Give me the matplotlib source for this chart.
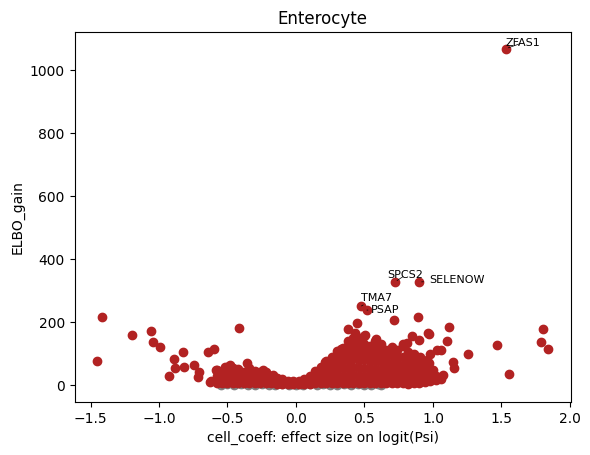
"""volcano-style scatter of ELBO gain vs cell coefficient (Enterocyte)"""
import matplotlib
matplotlib.use('Agg')
import numpy as np
import matplotlib.pyplot as plt

# non-significant genes (grey), sitting along zero
ns_x = [-0.55, -0.50, -0.45, -0.40, -0.35, -0.30, -0.25, -0.20, -0.15, -0.10,
        -0.05, 0.00, 0.05, 0.10, 0.15, 0.20, 0.25, 0.30, 0.35, 0.40,
        0.45, 0.50, 0.55, 0.60, 0.62]
ns_y = [1, 2, 1, 2, 1, 1, 2, 1, 1, 2,
        1, 1, 1, 2, 1, 2, 1, 1, 2, 1,
        2, 1, 1, 2, 1]

# significant genes, scattered outliers
out_x = [-1.415, -1.452, -1.196, -1.060, -1.045, -0.994, -0.890, -0.824, -0.926, -0.885,
         -0.817, -0.744, -0.709, -0.715, -0.642, -0.598, -0.415, -0.629, -0.585, -0.520,
         -0.478, -0.361, -0.240, -0.167,
         0.716, 0.891, 0.446, 0.380, 1.118, 1.804, 1.787, 1.840, 1.468, 1.556,
         1.256, 1.103, 1.062, 0.972, 1.147, 1.154, 1.074, 0.996, 0.845, 0.899,
         0.502, 0.429, 0.417, 0.583, 0.624, 0.782, 0.811, 0.332, 0.526, 0.716,
         0.904, 0.977, 0.953, 1.000, 0.818, 0.968, 0.271, 0.210, 1.026, 0.964]
out_y = [215, 76, 159, 171, 136, 120, 83, 104, 28, 53,
         56, 63, 42, 26, 104, 114, 180, 10, 48, 58,
         63, 69, 48, 32,
         206, 216, 198, 178, 184, 177, 138, 116, 127, 35,
         98, 140, 111, 162, 72, 53, 32, 26, 156, 143,
         159, 166, 138, 145, 130, 130, 134, 113, 111, 111,
         90, 98, 79, 48, 5, 69, 85, 74, 111, 164]

# significant genes, dense body of the cloud
blob_x = [-0.62,
          -0.58, -0.58, -0.58,
          -0.54, -0.54, -0.54,
          -0.50, -0.50, -0.50, -0.50,
          -0.46, -0.46, -0.46, -0.46,
          -0.42, -0.42, -0.42, -0.42,
          -0.38, -0.38, -0.38,
          -0.34, -0.34, -0.34, -0.34,
          -0.30, -0.30, -0.30, -0.30,
          -0.26, -0.26, -0.26, -0.26,
          -0.22, -0.22, -0.22, -0.22,
          -0.18, -0.18, -0.18,
          -0.14, -0.14, -0.14,
          -0.10, -0.10, -0.10,
          -0.06, -0.06, -0.06,
          -0.02, -0.02, -0.02,
          0.02, 0.02, 0.02,
          0.06, 0.06, 0.06,
          0.10, 0.10, 0.10,
          0.14, 0.14, 0.14, 0.14,
          0.18, 0.18, 0.18, 0.18,
          0.22, 0.22, 0.22, 0.22, 0.22,
          0.26, 0.26, 0.26, 0.26, 0.26,
          0.30, 0.30, 0.30, 0.30, 0.30, 0.30,
          0.34, 0.34, 0.34, 0.34, 0.34, 0.34,
          0.38, 0.38, 0.38, 0.38, 0.38, 0.38, 0.38,
          0.42, 0.42, 0.42, 0.42, 0.42, 0.42, 0.42,
          0.46, 0.46, 0.46, 0.46, 0.46, 0.46, 0.46,
          0.50, 0.50, 0.50, 0.50, 0.50, 0.50, 0.50,
          0.54, 0.54, 0.54, 0.54, 0.54, 0.54,
          0.58, 0.58, 0.58, 0.58, 0.58, 0.58, 0.58,
          0.62, 0.62, 0.62, 0.62, 0.62, 0.62,
          0.66, 0.66, 0.66, 0.66, 0.66, 0.66,
          0.70, 0.70, 0.70, 0.70, 0.70, 0.70,
          0.74, 0.74, 0.74, 0.74, 0.74, 0.74,
          0.78, 0.78, 0.78, 0.78, 0.78, 0.78,
          0.82, 0.82, 0.82, 0.82, 0.82, 0.82,
          0.86, 0.86, 0.86, 0.86, 0.86, 0.86,
          0.90, 0.90, 0.90, 0.90, 0.90,
          0.94, 0.94, 0.94, 0.94,
          0.98, 0.98, 0.98,
          1.02, 1.02,
          1.06]
blob_y = [12,
          8, 30, 48,
          7, 22, 40,
          7, 25, 45, 58,
          7, 20, 38, 55,
          7, 18, 35, 50,
          7, 22, 42,
          7, 20, 38, 55,
          7, 18, 35, 45,
          6, 16, 30, 42,
          6, 14, 28, 40,
          6, 12, 25,
          5, 10, 22,
          5, 10, 18,
          4, 8, 14,
          4, 6, 12,
          4, 7, 14,
          5, 10, 20,
          5, 14, 28,
          6, 18, 35, 45,
          6, 20, 40, 58,
          7, 24, 45, 65, 78,
          7, 25, 48, 70, 88,
          8, 28, 50, 72, 95, 108,
          8, 30, 55, 80, 100, 118,
          8, 30, 55, 80, 105, 125, 140,
          8, 32, 58, 85, 110, 130, 150,
          8, 30, 55, 80, 105, 130, 148,
          8, 30, 55, 82, 108, 130, 155,
          8, 28, 52, 78, 100, 125,
          8, 28, 50, 75, 100, 120, 140,
          8, 26, 48, 72, 95, 118,
          8, 25, 48, 70, 92, 112,
          8, 25, 48, 70, 95, 120,
          8, 25, 45, 68, 90, 110,
          8, 24, 45, 65, 88, 125,
          8, 22, 42, 62, 85, 105,
          8, 22, 40, 60, 80, 100,
          8, 20, 38, 55, 75,
          10, 25, 45, 65,
          12, 30, 50,
          15, 30,
          20]

# labelled genes
genes = ['ZFAS1', 'SPCS2', 'SELENOW', 'TMA7', 'PSAP']
gene_x = [1.531, 0.721, 0.897, 0.478, 0.518]
gene_y = [1067, 327, 327, 251, 238]
text_x = [1.527, 0.668, 0.972, 0.473, 0.546]
text_y = [1086, 349, 333, 279, 238]

sig_x = out_x + blob_x + gene_x
sig_y = out_y + blob_y + gene_y

fig, ax = plt.subplots(figsize=(6.4, 4.8))
ax.scatter(ns_x, ns_y, color='grey')
ax.scatter(sig_x, sig_y, color='firebrick')
for g, x, y, tx, ty in zip(genes, gene_x, gene_y, text_x, text_y):
    ax.annotate(g, xy=(x, y), xytext=(tx, ty), fontsize=8, ha='left', va='center',
                arrowprops=dict(arrowstyle='-', color='k', lw=0.5))
ax.set_title('Enterocyte')
ax.set_xlabel('cell_coeff: effect size on logit(Psi)')
ax.set_ylabel('ELBO_gain')
plt.savefig('out.png', dpi=100, bbox_inches='tight')
